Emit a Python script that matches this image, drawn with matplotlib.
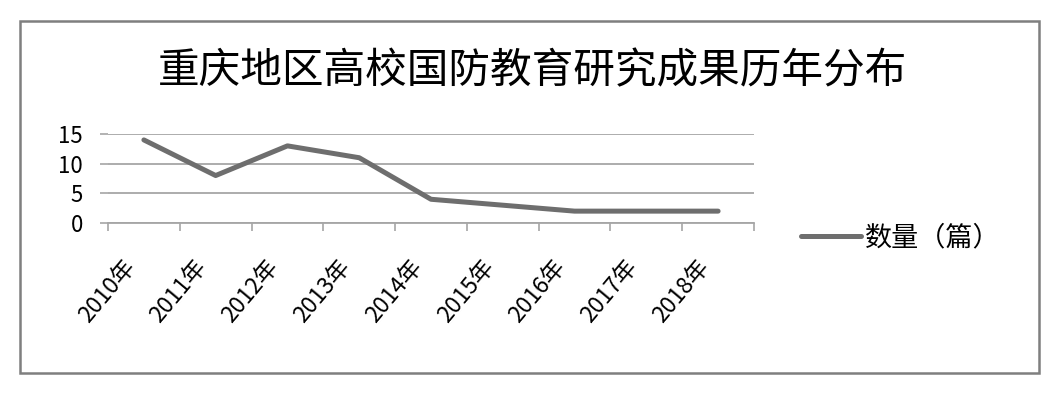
import matplotlib
matplotlib.use('Agg')
import matplotlib.pyplot as plt
from matplotlib.patches import Rectangle
from matplotlib.transforms import ScaledTranslation

plt.rcParams['font.family'] = ['Noto Sans CJK SC', 'DejaVu Sans']

# data
years = ['2010年', '2011年', '2012年', '2013年', '2014年', '2015年', '2016年', '2017年', '2018年']
counts = [14, 8, 13, 11, 4, 3, 2, 2, 2]
title = '重庆地区高校国防教育研究成果历年分布'
seriesName = '数量（篇）'

W, H = 1054, 409
fig = plt.figure(figsize=(W/100, H/100), dpi=100)
fig.patch.set_facecolor('white')

# outer chart border
fig.patches.append(Rectangle((20/W, 1 - 373/H), (1039-20)/W, (373-21)/H,
                             transform=fig.transFigure, fill=False,
                             edgecolor='#7f7f7f', linewidth=1.8))

ax = fig.add_axes([108/W, 1 - 223/H, (754-108)/W, (223-134)/H])
xpos = [i + 0.5 for i in range(len(years))]
ax.plot(xpos, counts, color='#6e6e6e', linewidth=3.6, solid_capstyle='round',
        solid_joinstyle='round', label=seriesName)

ax.set_xlim(0, len(years))
ax.set_ylim(0, 15)
ax.set_yticks([0, 5, 10, 15])
ax.yaxis.grid(True, color='#a6a6a6', linewidth=1.3)
ax.set_axisbelow(True)

ax.set_xticks(range(len(years) + 1))
ax.set_xticklabels([])
ax.set_xticks(xpos, minor=True)
ax.set_xticklabels(years, minor=True, rotation=50, ha='right', va='top',
                   rotation_mode='anchor', fontsize=16.5)
ax.tick_params(axis='x', which='minor', length=0, pad=0)
ax.tick_params(axis='x', which='major', length=6, color='#a6a6a6', width=1.2)
ax.tick_params(axis='y', length=6, color='#a6a6a6', width=1.2, labelsize=16, pad=12)
# shift year labels like the original (down and left of the category centre)
off = ScaledTranslation(-22/100, -33/100, fig.dpi_scale_trans)
for lab in ax.get_xticklabels(minor=True):
    lab.set_transform(lab.get_transform() + off)

for s in ['left', 'right', 'top']:
    ax.spines[s].set_visible(False)
ax.spines['bottom'].set_color('#a6a6a6')
ax.spines['bottom'].set_linewidth(1.3)

fig.text(532/W, 1 - 72/H, title, ha='center', va='center', fontsize=30)

fig.legend(loc='center left', bbox_to_anchor=(777/W, 1 - 238/H), frameon=False,
           fontsize=19.5, handlelength=2.2, handletextpad=0.15)

fig.savefig('out.png', dpi=100)
